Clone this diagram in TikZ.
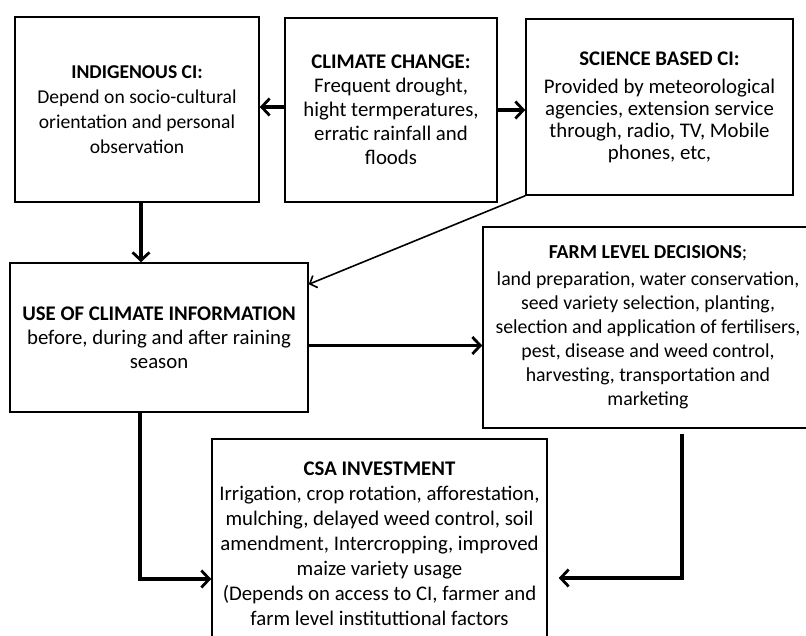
\documentclass[tikz,border=0pt]{standalone}
\usepackage{fontspec}
\setmainfont{Carlito}
\usetikzlibrary{arrows.meta}

\begin{document}
\begin{tikzpicture}[x=1pt,y=-1pt,font=\fontsize{20.8}{24}\selectfont,
  box/.style={draw,line width=1.5pt,align=center,inner sep=0pt},
  bigarrow/.style={line width=3.6pt,-{Straight Barb[length=8pt,width=17pt,line width=2.8pt]}},
  thinarrow/.style={line width=1.6pt,-{Straight Barb[length=6pt,width=13pt,line width=1.6pt]}}]
\useasboundingbox (0,0) rectangle (806,635);
\clip (0,0) rectangle (806,635);
\node[box,minimum width=244pt,minimum height=185pt,font=\fontsize{19.6}{25}\selectfont] (ind) at (137,109.5)
  {\textbf{INDIGENOUS CI:}\\Depend on socio-cultural\\orientation and personal\\observation};
\node[box,minimum width=212pt,minimum height=184pt] (cc) at (391,110)
  {\textbf{CLIMATE CHANGE:}\\Frequent drought,\\hight termperatures,\\erratic rainfall and\\floods};
\node[box,minimum width=267pt,minimum height=176pt,font=\fontsize{20.8}{22}\selectfont] (sci) at (659.5,107)
  {\textbf{SCIENCE BASED CI:}\\[6pt]Provided by meteorological\\agencies, extension service\\through, radio, TV,  Mobile\\phones, etc,};
\node[box,minimum width=298pt,minimum height=149pt] (use) at (159,337.5)
  {\textbf{USE OF CLIMATE INFORMATION}\\before, during and after raining\\season};
\node[box,minimum width=330pt,minimum height=201pt,font=\fontsize{19.8}{24}\selectfont] (farm) at (648,327.5)
  {\textbf{FARM LEVEL DECISIONS};\\[3pt]land preparation, water conservation,\\seed variety selection, planting,\\selection and application of fertilisers,\\pest, disease and weed control,\\harvesting, transportation and\\marketing};
\node[box,minimum width=335pt,minimum height=210pt,font=\fontsize{20.8}{25}\selectfont] (csa) at (379.5,544)
  {\textbf{CSA INVESTMENT}\\Irrigation, crop rotation, afforestation,\\mulching, delayed weed control, soil\\amendment, Intercropping, improved\\maize variety usage\\(Depends on access to CI, farmer and\\farm level  instituttional factors};
\draw[bigarrow] ([yshift=3pt]cc.west) -- ([yshift=3pt]cc.west -| ind.east);
\draw[bigarrow] (cc.east) -- (cc.east -| sci.west);
\draw[bigarrow] ([xshift=4pt]ind.south) -- ([xshift=4pt]ind.south |- use.north);
\draw[thinarrow] (sci.south west) -- ([yshift=-22pt]use.north east);
\draw[bigarrow] ([yshift=-8pt]use.east) -- ([yshift=-8pt]use.east -| farm.west);
\draw[bigarrow] ([xshift=3pt]ind.south |- use.south) |- ([yshift=-35pt]csa.west);
\draw[bigarrow] ([xshift=34pt,yshift=-5pt]farm.south) |- ([xshift=11pt,yshift=-34pt]csa.east);
\end{tikzpicture}
\end{document}
